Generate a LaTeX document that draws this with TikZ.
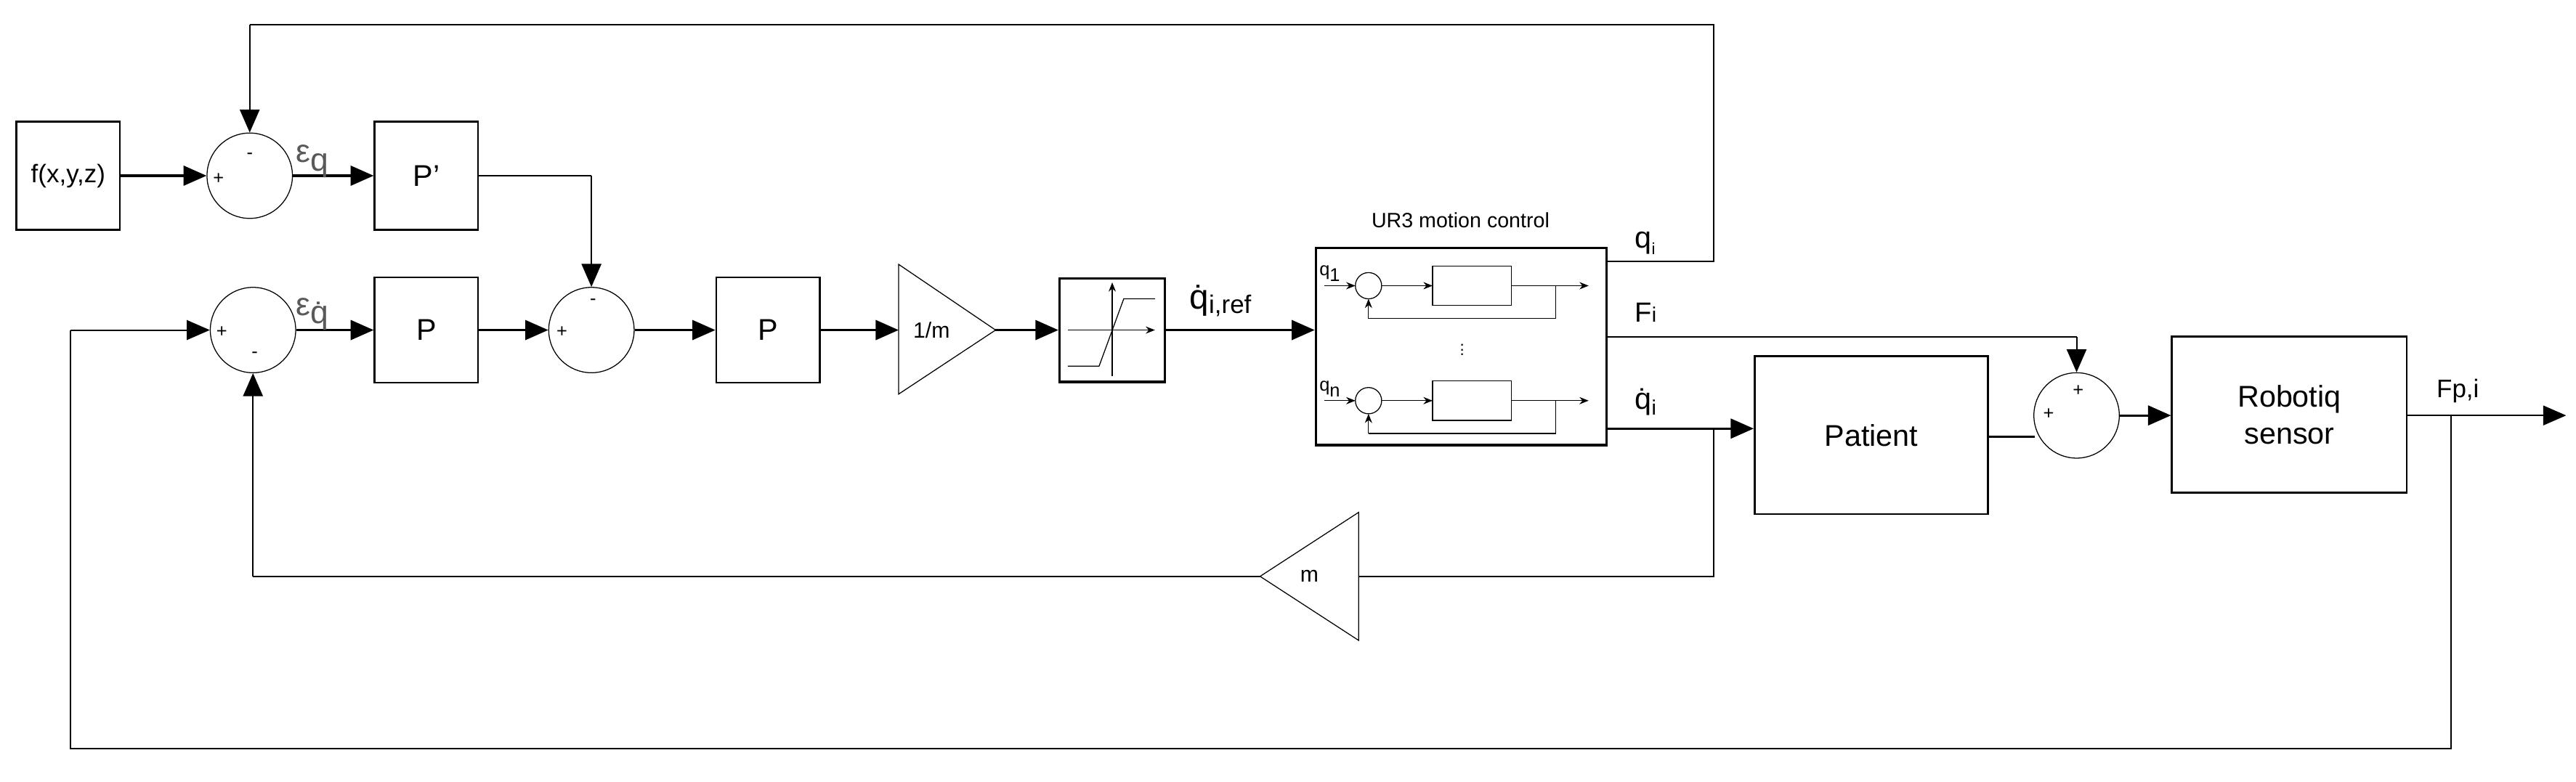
\documentclass[tikz,border=0pt]{standalone}
\usepackage{fontspec}
\setmainfont{Liberation Sans}
\usetikzlibrary{arrows.meta,shapes.geometric}
\begin{document}
\begin{tikzpicture}[x=0.05cm,y=-0.05cm,
  blk/.style={draw,line width=1.6pt,inner sep=0pt},
  sum/.style={draw,circle,line width=0.8pt,minimum size=2.6cm,inner sep=0pt},
  sig/.style={line width=2pt,-{Triangle[length=0.7cm,width=0.6cm]}},
  sigp/.style={line width=2pt},
  fb/.style={line width=1.3pt},
  fba/.style={line width=1.3pt,-{Triangle[length=0.7cm,width=0.6cm]}},
  sg/.style={font=\fontsize{16}{16}\selectfont,inner sep=0pt},
  lbl/.style={font=\fontsize{30}{30}\selectfont,inner sep=0pt},
  inner/.style={line width=0.8pt},
  ina/.style={line width=0.8pt,-{Stealth[length=0.28cm,width=0.22cm]}}
]
\useasboundingbox (0,0) rectangle (1568,476);
% blocks
\node[blk,minimum width=3.15cm,minimum height=3.3cm,font=\fontsize{22}{22}\selectfont] (f) at (41.5,107) {f(x,y,z)};
\node[sum] (s1) at (152,107) {};
\node[blk,minimum width=3.15cm,minimum height=3.3cm,font=\fontsize{26}{26}\selectfont] (Pp) at (259.5,107) {P'};
\node[sum] (s2) at (154,201) {};
\node[blk,minimum width=3.15cm,minimum height=3.2cm,font=\fontsize{26}{26}\selectfont] (P1) at (259.5,201) {P};
\node[sum] (s3) at (360,201) {};
\node[blk,minimum width=3.15cm,minimum height=3.2cm,font=\fontsize{26}{26}\selectfont] (P2) at (467.5,201) {P};
\draw[line width=0.8pt] (547,161) -- (606,201) -- (547,240) -- cycle;
\node[font=\fontsize{19}{19}\selectfont] (g) at (567,201) {1/m};
\coordinate (gin) at (547,201);
\coordinate (gout) at (606,201);
\node[blk,line width=2.2pt,minimum width=3.2cm,minimum height=3.15cm] (sat) at (677,201) {};
\draw[inner] (650,201) -- (677,201);
\draw[ina] (677,201) -- (703,201);
\draw[ina] (677,229) -- (677,172);
\draw[inner] (650,223) -- (669,223) -- (684,182) -- (703,182);
\node[lbl,font=\fontsize{30}{30}\selectfont,anchor=base west] at (724,188) {\.q\fontsize{22}{22}\selectfont\raisebox{-0.35ex}{i,ref}};
% UR3
\node[blk,line width=2.2pt,minimum width=8.85cm,minimum height=6cm] (ur) at (889.5,211) {};
\node[font=\fontsize{18}{18}\selectfont,inner sep=0pt] at (889,134) {UR3 motion control};
\foreach \yy/\lab in {174/1,244/n}{
  \draw[ina] (806,\yy) -- (825,\yy);
  \draw[inner] (833,\yy) circle (8);
  \draw[ina] (841,\yy) -- (872,\yy);
  \draw[inner] (872,\yy-12) rectangle (920,\yy+12);
  \draw[ina] (920,\yy) -- (967,\yy);
  \draw[inner] (947,\yy) -- (947,\yy+20) -- (833,\yy+20);
  \draw[ina] (833,\yy+20) -- (833,\yy+8);
  \node[font=\fontsize{16}{16}\selectfont,inner sep=0pt,anchor=base west] at (803,\yy-6) {q\raisebox{-0.6ex}{\lab}};
}
\node[font=\fontsize{14}{14}\selectfont,inner sep=0pt] at (890,211) {$\vdots$};
% outputs
\node[blk,minimum width=7.1cm,minimum height=4.8cm,font=\fontsize{26}{26}\selectfont] (pat) at (1139,265) {Patient};
\node[sum] (s4) at (1264,253) {};
\node[blk,minimum width=7.15cm,minimum height=4.75cm,font=\fontsize{26}{32}\selectfont,align=center] (rob) at (1393.5,252.5) {Robotiq\\sensor};
% triangle m
\draw[line width=0.8pt] (827,312) -- (767,351) -- (827,390) -- cycle;
\node[font=\fontsize{19}{19}\selectfont] (mm) at (797,351) {m};
\coordinate (mapex) at (767,351);
\coordinate (mbase) at (827,351);
% coordinates
\coordinate (qiout) at (978,159);
\coordinate (qtop) at (1043,15);
\coordinate (qcorner) at (1043,159);
\coordinate (ltop) at (152,15);
\coordinate (Fout) at (978,205);
\coordinate (Fc) at (1264,205);
\coordinate (qdout) at (978,261);
\coordinate (br1) at (1043,261);
\coordinate (br1d) at (1043,351);
\coordinate (ml) at (154,351);
\coordinate (po) at (1210,266);
\coordinate (s4l) at (1238.5,266);
\coordinate (oend) at (1562,253);
\coordinate (br2) at (1492,253);
\coordinate (br2d) at (1492,456);
\coordinate (bl) at (43,456);
\coordinate (bl2) at (43,201);
\coordinate (ppc) at (360,107);
% connectors
\draw[sig] (f) -- (s1);
\draw[sig] (s1) -- (Pp);
\draw[fb] (Pp.east) -- (ppc);
\draw[fba] (ppc) -- (s3.north);
\draw[sig] (s2) -- (P1);
\draw[sig] (P1) -- (s3);
\draw[sig] (s3) -- (P2);
\draw[sig] (P2) -- (gin);
\draw[sig] (gout) -- (sat);
\draw[sig] (sat.east) -- (sat.east -| ur.west);
\draw[fb] (qiout) -- (qcorner) -- (qtop) -- (ltop);
\draw[fba] (ltop) -- (s1.north);
\draw[fb] (Fout) -- (Fc);
\draw[fba] (Fc) -- (s4.north);
\draw[sig] (qdout) -- (qdout -| pat.west);
\draw[fb] (br1) -- (br1d) -- (mbase);
\draw[fb] (mapex) -- (ml);
\draw[fba] (ml) -- (s2.south);
\draw[sigp] (po) -- (s4l);
\draw[sig] (s4) -- (s4 -| rob.west);
\draw[fb] (s4 -| rob.east) -- (br2);
\draw[fb,-{Triangle[length=0.7cm,width=0.6cm]}] (br2) -- (oend);
\draw[fb] (br2) -- (br2d) -- (bl) -- (bl2);
\draw[fba] (bl2) -- (s2.west);
% signs
\node[sg] at (152,95) {-};
\node[sg] at (133,109) {+};
\node[sg] at (135,202) {+};
\node[sg] at (155,216) {-};
\node[sg] at (361,184) {-};
\node[sg] at (342,202) {+};
\node[sg] at (1265,238) {+};
\node[sg] at (1247,252) {+};
% labels
\node[lbl,text=black!65,anchor=base west,font=\fontsize{28}{28}\selectfont] at (180,99) {ε\raisebox{-0.5ex}{q}};
\node[lbl,text=black!65,anchor=base west,font=\fontsize{28}{28}\selectfont] at (180,192) {ε\raisebox{-0.5ex}{\.q}};
\node[lbl,anchor=base west,font=\fontsize{26}{26}\selectfont] at (995,151) {q\raisebox{-0.4ex}{\fontsize{14}{14}\selectfont i}};
\node[lbl,anchor=base west,font=\fontsize{24}{24}\selectfont] at (995,196) {F\fontsize{18}{18}\selectfont i};
\node[lbl,anchor=base west,font=\fontsize{26}{26}\selectfont] at (995,249) {\.q\raisebox{-0.4ex}{\fontsize{18}{18}\selectfont i}};
\node[lbl,anchor=base west,font=\fontsize{22}{22}\selectfont] at (1483,242) {Fp,i};
\end{tikzpicture}
\end{document}
